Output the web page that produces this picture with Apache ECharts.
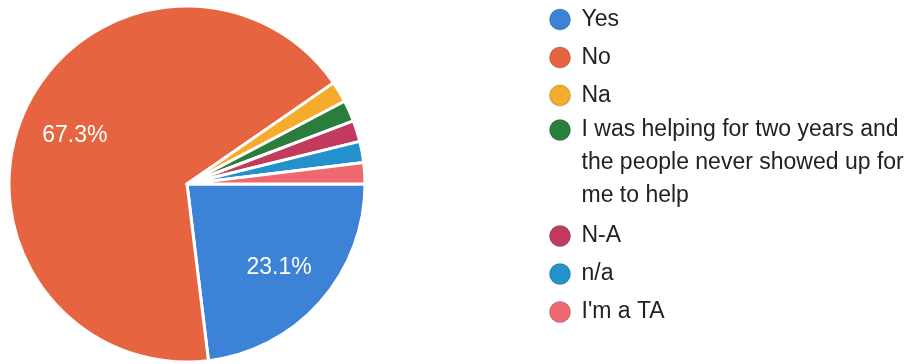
<!DOCTYPE html>
<html>
<head>
<meta charset="utf-8">
<script src="https://cdn.jsdelivr.net/npm/echarts@6/dist/echarts.min.js"></script>
<style>
  html, body { margin: 0; padding: 0; background: #ffffff; }
  #chart { width: 922px; height: 364px; }
</style>
</head>
<body>
<div id="chart"></div>
<script>
// Survey answers and how many people gave each one
const answers = [
  'Yes',
  'No',
  'Na',
  'I was helping for two years and the people never showed up for me to help',
  'N-A',
  'n/a',
  "I'm a TA"
];
const responses = [12, 35, 1, 1, 1, 1, 1];

// Slice colours, in answer order
const palette = ['#3c82d7', '#e6643f', '#f5ac2c', '#2b7d3c', '#c23b5e', '#2391cc', '#ee6a70'];

const FONT = "'Liberation Sans', Arial, Helvetica, sans-serif";
const pieData = answers.map((name, i) => ({ name: name, value: responses[i] }));

const legendText = {
  fontFamily: FONT,
  fontSize: 23,
  lineHeight: 33,
  color: '#222222'
};
const legendBase = {
  orient: 'vertical',
  left: 549,
  padding: 0,
  itemWidth: 33,
  itemHeight: 21,
  itemGap: 5,
  icon: 'circle',
  itemStyle: { borderWidth: 1, borderColor: 'rgba(0,0,0,0.22)' },
  selectedMode: false
};

const chart = echarts.init(document.getElementById('chart'), null, { renderer: 'canvas' });
chart.setOption({
  animation: false,
  backgroundColor: '#ffffff',
  color: palette,
  legend: [
    Object.assign({}, legendBase, {
      top: 3,
      data: answers.slice(0, 3),
      textStyle: legendText
    }),
    // the long answer wraps onto three lines; two empty lines above it
    // keep the marker level with its first line
    Object.assign({}, legendBase, {
      top: 47.5,
      data: answers.slice(3, 4),
      formatter: name => '\n\n' + name,
      textStyle: Object.assign({}, legendText, {
        width: 340,
        overflow: 'break',
        backgroundColor: 'rgba(255,255,255,0)'
      })
    }),
    Object.assign({}, legendBase, {
      top: 219.5,
      data: answers.slice(4),
      textStyle: legendText
    })
  ],
  series: [
    {
      type: 'pie',
      center: [187, 184],
      radius: 178,
      startAngle: 0,
      clockwise: true,
      data: pieData,
      label: { show: false },
      labelLine: { show: false },
      itemStyle: { borderColor: '#ffffff', borderWidth: 3 },
      emphasis: { disabled: true }
    },
    {
      // percentage labels, set further out than the slice midpoint
      type: 'pie',
      center: [187, 186],
      radius: 240,
      startAngle: 0,
      clockwise: true,
      silent: true,
      z: 3,
      percentPrecision: 1,
      minShowLabelAngle: 10,
      data: pieData,
      itemStyle: { color: 'rgba(0,0,0,0)', borderWidth: 0 },
      label: {
        show: true,
        position: 'inside',
        formatter: '{d}%',
        color: '#ffffff',
        fontFamily: FONT,
        fontSize: 23
      },
      labelLine: { show: false },
      emphasis: { disabled: true }
    }
  ]
});
</script>
</body>
</html>
